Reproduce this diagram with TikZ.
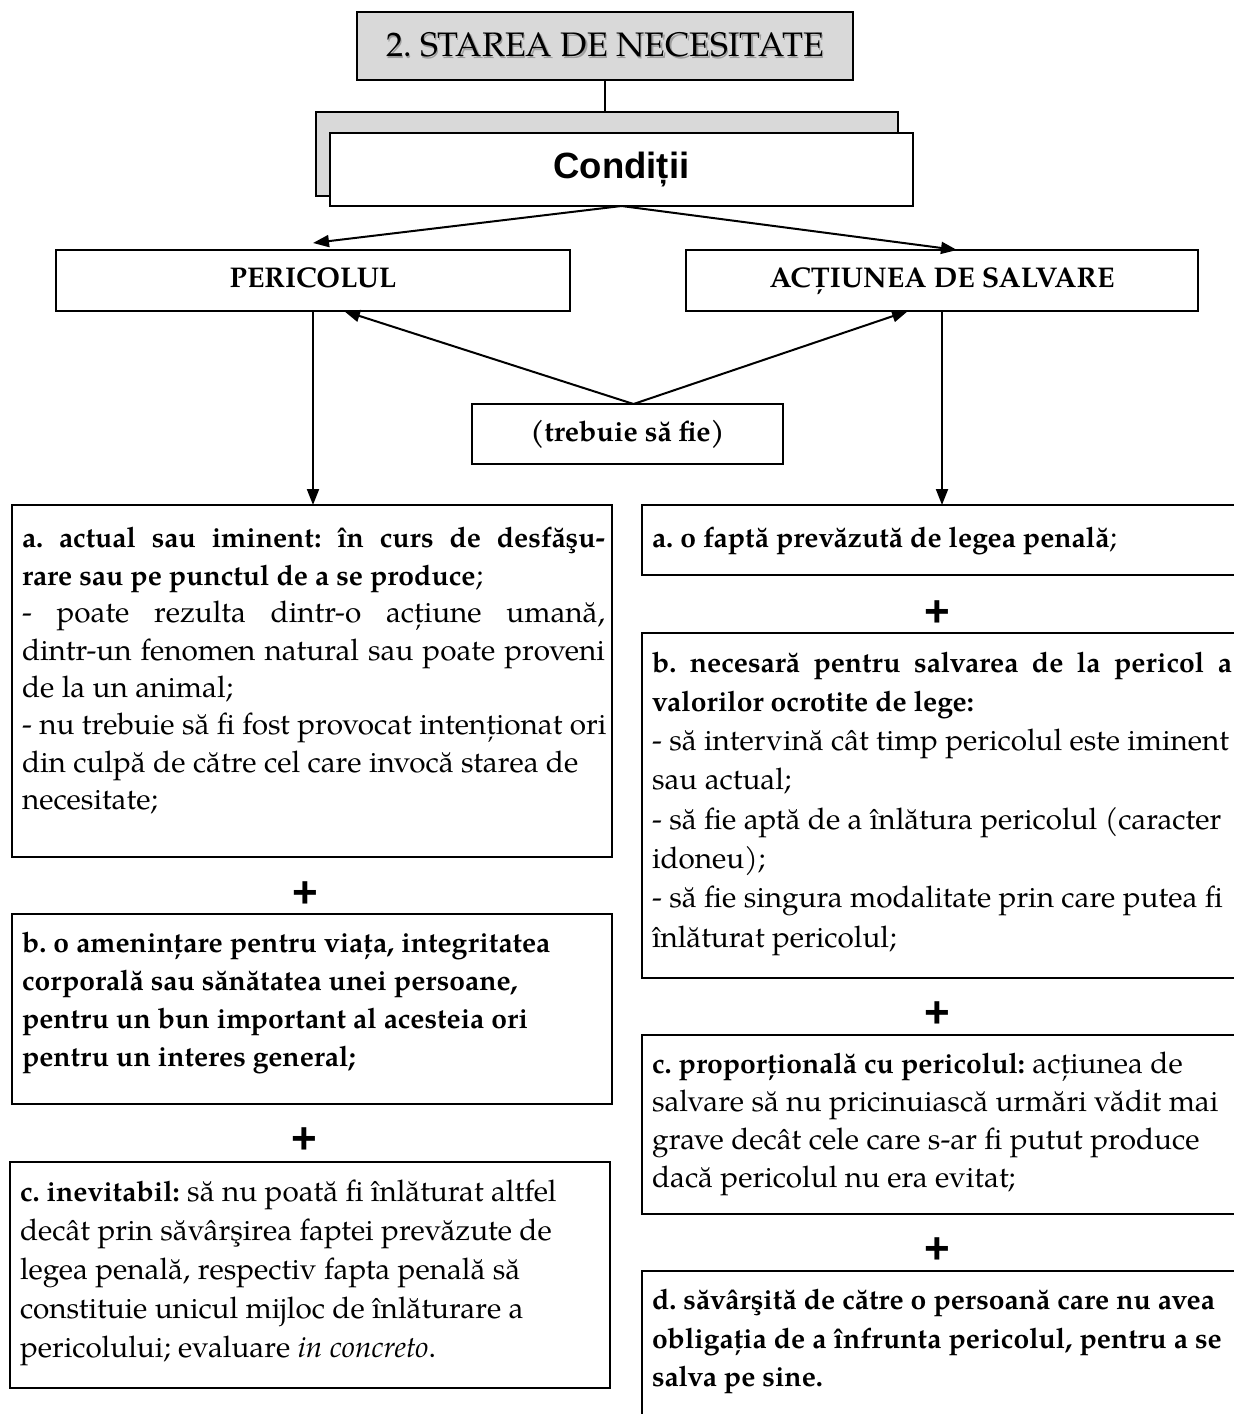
\documentclass[tikz,border=0pt]{standalone}
\usepackage{fontspec}
\setmainfont{texgyrepagella}[Extension=.otf, UprightFont=*-regular, BoldFont=*-bold, ItalicFont=*-italic, BoldItalicFont=*-bolditalic]
\newfontfamily\arialfont{Liberation Sans}
\usetikzlibrary{arrows.meta,calc}
\newcommand\shtxt[1]{\makebox[0pt][l]{\hspace{1.6pt}\raisebox{-1.6pt}{\textcolor{gray!75}{#1}}}#1}
\newcommand\bfx[1]{{\fontsize{28.3}{30}\selectfont\bfseries #1}}
\tikzset{
  box/.style={draw=black, line width=2pt, rectangle, inner sep=0pt, outer sep=0pt, anchor=north west},
  conn/.style={line width=2pt},
  arr/.style={line width=2pt, -{Triangle[length=16pt,width=12pt]}},
  body/.style={anchor=north west, inner sep=0pt, outer sep=0pt, align=left},
  plus/.style={font=\arialfont\bfseries\fontsize{44}{44}\selectfont, inner sep=0pt},
  lbl/.style={font=\bfseries\fontsize{28.5}{34}\selectfont, text height=20pt, text depth=6pt},
}
\begin{document}
\frenchspacing
\begin{tikzpicture}[x=1pt,y=-1pt]
\useasboundingbox[fill=white] (0,0) rectangle (1234,1414);

% top
\node[box, fill=gray!30, minimum width=496pt, minimum height=68pt,
      font=\fontsize{34}{38}\selectfont] (title) at (357,12) {\shtxt{2. STAREA DE NECESITATE}};
\node[box, fill=gray!30, minimum width=582pt, minimum height=84pt] (shad) at (316,112) {};
\node[box, fill=white, minimum width=583pt, minimum height=73pt,
      font=\arialfont\bfseries\fontsize{36.5}{40}\selectfont] (cond) at (330,133) {Condiții};

\node[box, lbl, minimum width=514pt, minimum height=61pt] (per) at (56,250) {PERICOLUL};
\node[box, lbl, minimum width=512pt, minimum height=61pt] (act) at (686,250) {ACȚIUNEA DE SALVARE};
\node[box, lbl, minimum width=311pt, minimum height=60pt] (treb) at (472,404) {(trebuie să fie)};

% left column boxes
\node[box, minimum width=600pt, minimum height=352pt] (la) at (12,505) {};
\node[box, minimum width=600pt, minimum height=190pt] (lb) at (12,914) {};
\node[box, minimum width=600pt, minimum height=226pt] (lc) at (10,1162) {};
% right column boxes
\node[box, minimum width=610pt, minimum height=70pt] (ra) at (642,505) {};
\node[box, minimum width=610pt, minimum height=345pt] (rb) at (642,633) {};
\node[box, minimum width=610pt, minimum height=179pt] (rc) at (642,1035) {};
\node[box, minimum width=610pt, minimum height=200pt] (rd) at (642,1271) {};

% plus signs
\node[plus] (p1) at (305,895) {+};
\node[plus] (p2) at (304,1141) {+};
\node[plus] (p3) at (937,614) {+};
\node[plus] (p4) at (937,1015) {+};
\node[plus] (p5) at (937,1251) {+};

% texts
\node[body, font=\fontsize{29.7}{37.4}\selectfont] (lat) at (22,521.8) {%
\strut\makebox[583pt][s]{\bfx{a. actual sau iminent: în curs de desfăşu-}}\\
\bfx{rare sau pe punctul de a se produce};\\
\makebox[583pt][s]{- poate rezulta dintr-o acțiune umană,}\\
\makebox[583pt][s]{dintr-un fenomen natural sau poate proveni}\\
de la un animal;\\
- nu trebuie să fi fost provocat intenționat ori\\
din culpă de către cel care invocă starea de\\
necesitate;};

\node[body, font=\fontsize{29.7}{38}\selectfont] (lbt) at (22,925.4) {%
\strut\bfx{b. o amenințare pentru viața, integritatea}\\
\bfx{corporală sau sănătatea unei persoane,}\\
\bfx{pentru un bun important al acesteia ori}\\
\bfx{pentru un interes general;}};

\node[body, font=\fontsize{29.7}{38.8}\selectfont] (lct) at (20,1174.8) {%
\strut\bfx{c. inevitabil:} să nu poată fi înlăturat altfel\\
decât prin săvârşirea faptei prevăzute de\\
legea penală, respectiv fapta penală să\\
constituie unicul mijloc de înlăturare a\\
pericolului; evaluare \textit{in concreto}.};

\node[body, font=\fontsize{29.7}{39}\selectfont] (rat) at (652,519.7) {%
\strut\bfx{a. o faptă prevăzută de legea penală};};

\node[body, font=\fontsize{29.7}{39.3}\selectfont] (rbt) at (652,644.5) {%
\strut\makebox[580pt][s]{\bfx{b. necesară pentru salvarea de la pericol a}}\\
\bfx{valorilor ocrotite de lege:}\\
- să intervină cât timp pericolul este iminent\\
sau actual;\\
- să fie aptă de a înlătura pericolul (caracter\\
idoneu);\\
- să fie singura modalitate prin care putea fi\\
înlăturat pericolul;};

\node[body, font=\fontsize{29.7}{38.3}\selectfont] (rct) at (652,1046.2) {%
\strut\bfx{c. proporțională cu pericolul:} acțiunea de\\
salvare să nu pricinuiască urmări vădit mai\\
grave decât cele care s-ar fi putut produce\\
dacă pericolul nu era evitat;};

\node[body, font=\fontsize{29.7}{38.5}\selectfont] (rdt) at (652,1283) {%
\strut\bfx{d. săvârşită de către o persoană care nu avea}\\
\bfx{obligația de a înfrunta pericolul, pentru a se}\\
\bfx{salva pe sine.}};

% connectors
\draw[conn] (title.south) -- (title.south |- shad.north);
\draw[arr] (cond.south) -- ([yshift=7pt]per.north);
\draw[arr] (cond.south) -- ([xshift=15pt]act.north);
\draw[arr] ([xshift=6pt]treb.north) -- ([xshift=31pt]per.south);
\draw[arr] ([xshift=6pt]treb.north) -- ([xshift=-34pt]act.south);
\draw[arr] (per.south) -- (per.south |- la.north);
\draw[arr] (act.south) -- (act.south |- ra.north);
\end{tikzpicture}
\end{document}
